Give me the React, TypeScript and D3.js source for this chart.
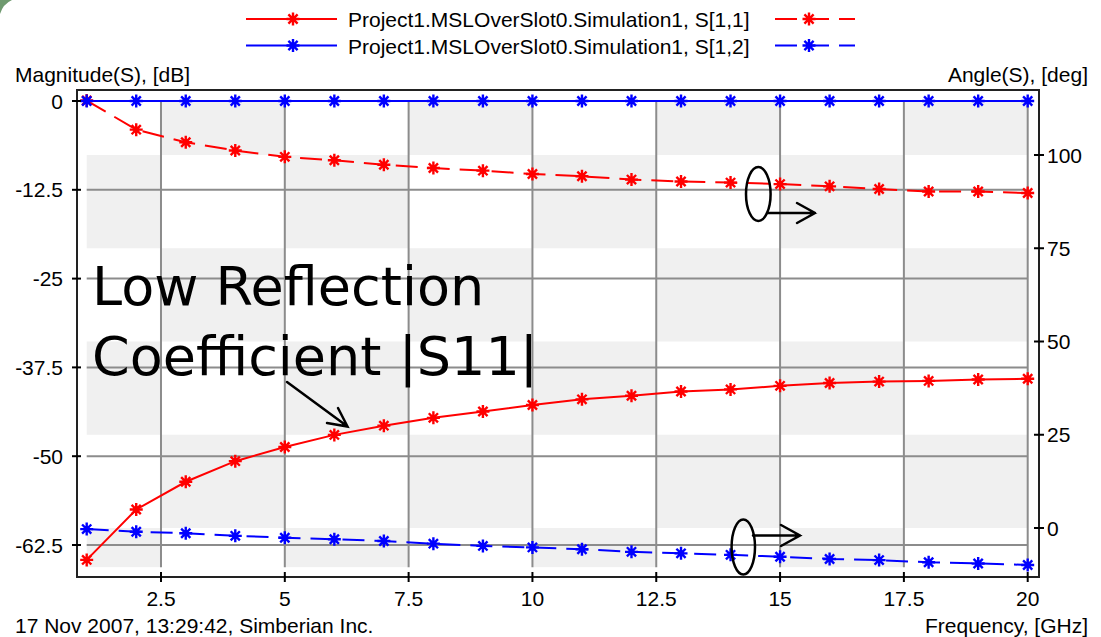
import React from 'react';
import * as d3 from 'd3';

const width = 1101;
const height = 637;
const frame = { left: 77, top: 90, right: 1039, bottom: 577 };

// frequency points, GHz
const freqGHz = [1, 2, 3, 4, 5, 6, 7, 8, 9, 10, 11, 12, 13, 14, 15, 16, 17, 18, 19, 20];
// magnitude, dB (left axis)
const s11MagDb = [-64.6, -57.5, -53.6, -50.7, -48.7, -47.0, -45.7, -44.6, -43.7, -42.8,
  -42.0, -41.5, -40.9, -40.6, -40.1, -39.7, -39.5, -39.4, -39.2, -39.1];
const s12MagDb = [0, 0, 0, 0, 0, 0, 0, 0, 0, 0, 0, 0, 0, 0, 0, 0, 0, 0, 0, 0];
// angle, deg (right axis)
const s11AngleDeg = [114.6, 106.8, 103.4, 101.2, 99.5, 98.6, 97.4, 96.5, 95.8, 94.9,
  94.3, 93.4, 92.9, 92.6, 92.2, 91.6, 90.9, 90.2, 90.2, 89.8];
const s12AngleDeg = [-0.3, -1.0, -1.4, -2.1, -2.6, -3.0, -3.5, -4.2, -4.8, -5.2,
  -5.7, -6.4, -6.8, -7.2, -7.7, -8.3, -8.6, -9.2, -9.5, -9.9];

const freqTicks = [2.5, 5, 7.5, 10, 12.5, 15, 17.5, 20];
const magTicks = [0, -12.5, -25, -37.5, -50, -62.5];
const angleTicks = [0, 25, 50, 75, 100];
const bandFreqEdges = [1, 2.5, 5, 7.5, 10, 12.5, 15, 17.5, 20];
const bandAngleEdges = [-10.5, 0, 25, 50, 75, 100, 114.5];

const legendNames = ['Project1.MSLOverSlot0.Simulation1, S[1,1]', 'Project1.MSLOverSlot0.Simulation1, S[1,2]'];
const colors = ['#ff0000', '#0000ff'];

const font = "'Liberation Sans', Arial, sans-serif";

const x = d3.scaleLinear().domain([1, 20]).range([86.7, 1027.7]);
const yMag = d3.scaleLinear().domain([0, -62.5]).range([101, 545]);
const yAng = d3.scaleLinear().domain([0, 100]).range([528, 155]);

const star = 'M-6.5,0H6.5M0,-6.5V6.5M-4.6,-4.6L4.6,4.6M-4.6,4.6L4.6,-4.6';

function Stars({ pts, color }) {
  return (
    <g>
      {pts.map((p, i) => (
        <g key={i} transform={`translate(${p[0]},${p[1]})`}>
          <path d={star} stroke={color} strokeWidth={2.4} fill="none" />
          <circle r={3} fill={color} />
        </g>
      ))}
    </g>
  );
}

export default function App() {
  const line = d3.line();
  const series = [
    { pts: freqGHz.map((f, i) => [x(f), yAng(s11AngleDeg[i])]), color: colors[0], dash: '22 10' },
    { pts: freqGHz.map((f, i) => [x(f), yAng(s12AngleDeg[i])]), color: colors[1], dash: '22 10' },
    { pts: freqGHz.map((f, i) => [x(f), yMag(s11MagDb[i])]), color: colors[0], dash: null },
    { pts: freqGHz.map((f, i) => [x(f), yMag(s12MagDb[i])]), color: colors[1], dash: null },
  ];

  const cells = [];
  for (let i = 0; i < bandFreqEdges.length - 1; i++) {
    for (let j = 0; j < bandAngleEdges.length - 1; j++) {
      if ((i + j) % 2 === 0) {
        const x0 = x(bandFreqEdges[i]);
        const x1 = x(bandFreqEdges[i + 1]);
        const y0 = yAng(bandAngleEdges[j + 1]);
        const y1 = yAng(bandAngleEdges[j]);
        cells.push(<rect key={`${i}-${j}`} x={x0} y={y0} width={x1 - x0} height={y1 - y0} fill="#f0f0f0" />);
      }
    }
  }
  const gTop = yAng(bandAngleEdges[bandAngleEdges.length - 1]);
  const gBottom = yAng(bandAngleEdges[0]);

  return (
    <svg width={width} height={height} style={{ position: 'absolute', left: 0, top: 0, background: '#fff' }}
      fontFamily={font}>
      <rect x={0} y={0} width={width} height={height} fill="#fff" />
      <path d="M0,14 Q3,4 12,0 L0,0 Z" fill="#6f9a6f" />

      {/* legend */}
      {legendNames.map((name, i) => {
        const ly = 19 + i * 26.5;
        return (
          <g key={name}>
            <line x1={246} x2={337} y1={ly} y2={ly} stroke={colors[i]} strokeWidth={2} />
            <Stars pts={[[293, ly]]} color={colors[i]} />
            <text x={348} y={ly + 8} fontSize={21}>{name}</text>
            <line x1={775} x2={855} y1={ly} y2={ly} stroke={colors[i]} strokeWidth={2} strokeDasharray="22 10" />
            <Stars pts={[[809, ly]]} color={colors[i]} />
          </g>
        );
      })}

      <text x={15} y={82} fontSize={21}>Magnitude(S), [dB]</text>
      <text x={1088} y={82} fontSize={21} textAnchor="end">Angle(S), [deg]</text>

      {/* background bands */}
      {cells}

      {/* grid */}
      {freqTicks.map(t => (
        <line key={`gx${t}`} x1={x(t)} x2={x(t)} y1={gTop} y2={gBottom} stroke="#8c8c8c" strokeWidth={2} />
      ))}
      {magTicks.map(t => (
        <line key={`gy${t}`} x1={x(1)} x2={x(20)} y1={yMag(t)} y2={yMag(t)} stroke="#8c8c8c" strokeWidth={2} />
      ))}

      {/* series */}
      {series.map((s, i) => (
        <path key={`l${i}`} d={line(s.pts)} fill="none" stroke={s.color} strokeWidth={2}
          strokeDasharray={s.dash || undefined} />
      ))}
      {series.map((s, i) => <Stars key={`m${i}`} pts={s.pts} color={s.color} />)}

      {/* frame */}
      <rect x={frame.left} y={frame.top} width={frame.right - frame.left} height={frame.bottom - frame.top}
        fill="none" stroke="#222" strokeWidth={2} />

      {/* axes */}
      {magTicks.map(t => (
        <g key={`lt${t}`}>
          <line x1={72} x2={81} y1={yMag(t)} y2={yMag(t)} stroke="#000" strokeWidth={2} />
          <text x={63} y={yMag(t) + 7.5} fontSize={21} textAnchor="end">{t}</text>
        </g>
      ))}
      {angleTicks.map(t => (
        <g key={`rt${t}`}>
          <line x1={1034} x2={1044} y1={yAng(t)} y2={yAng(t)} stroke="#000" strokeWidth={2} />
          <text x={1047} y={yAng(t) + 7.5} fontSize={21}>{t}</text>
        </g>
      ))}
      {freqTicks.map(t => (
        <g key={`bt${t}`}>
          <line x1={x(t)} x2={x(t)} y1={572} y2={582} stroke="#000" strokeWidth={2} />
          <text x={x(t)} y={606} fontSize={21} textAnchor="middle">{t}</text>
        </g>
      ))}

      <text x={15} y={633} fontSize={21}>17 Nov 2007, 13:29:42, Simberian Inc.</text>
      <text x={1088} y={633} fontSize={21} textAnchor="end">Frequency, [GHz]</text>

      {/* annotations */}
      <text x={92} y={305} fontSize={54} fontFamily="'DejaVu Sans', sans-serif">Low Reflection</text>
      <text x={92} y={375} fontSize={54} fontFamily="'DejaVu Sans', sans-serif">Coefficient |S11|</text>
      <g stroke="#000" strokeWidth={2.5} fill="none" strokeLinecap="round">
        <path d="M287,382L347.5,426.5M338,408L347.5,426.5L327,423" />
        <ellipse cx={758.3} cy={194} rx={12.3} ry={27} />
        <path d="M767,213H815M797,203L815,213L797,223" />
        <ellipse cx={743.3} cy={547} rx={11.7} ry={27.5} />
        <path d="M753,535.5H800M781,525L800,535.5L781,546" />
      </g>
    </svg>
  );
}
